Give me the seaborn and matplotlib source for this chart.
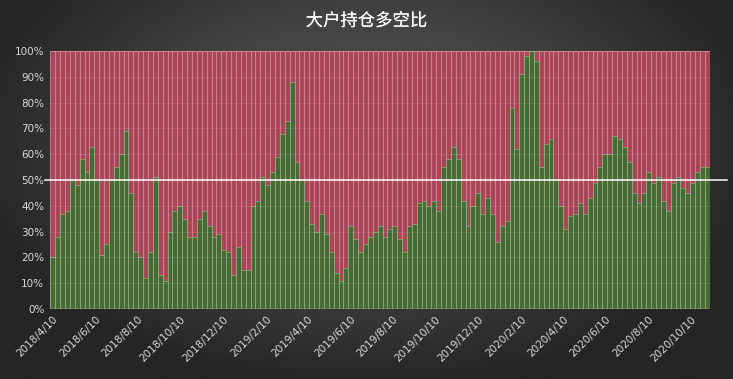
import numpy as np
import pandas as pd
import matplotlib
matplotlib.use('Agg')
import matplotlib.pyplot as plt
import matplotlib.patheffects as pe
import seaborn as sns

# weekly long share (%)
start_date = '2018-04-10'
long_pct = [20, 28, 37, 38, 50, 48, 58, 53, 63, 50,
            21, 25, 50, 55, 60, 69, 45, 22, 20, 12,
            22, 51, 13, 11, 30, 38, 40, 35, 28, 28,
            35, 38, 32, 28, 29, 23, 22, 13, 24, 15,
            15, 40, 42, 51, 48, 53, 59, 68, 73, 88,
            57, 50, 42, 33, 30, 37, 29, 22, 14, 11,
            16, 32, 27, 22, 25, 28, 30, 32, 28, 31,
            32, 27, 22, 32, 33, 41, 42, 40, 42, 38,
            55, 58, 63, 58, 42, 32, 40, 45, 37, 43,
            37, 26, 32, 34, 78, 62, 91, 98, 100, 96,
            55, 64, 66, 50, 40, 31, 36, 37, 41, 37,
            43, 49, 55, 60, 60, 67, 66, 63, 57, 45,
            41, 45, 53, 49, 51, 42, 38, 49, 51, 47,
            45, 49, 53, 55, 55]
tick_dates = ['2018/4/10', '2018/6/10', '2018/8/10', '2018/10/10', '2018/12/10',
              '2019/2/10', '2019/4/10', '2019/6/10', '2019/8/10', '2019/10/10',
              '2019/12/10', '2020/2/10', '2020/4/10', '2020/6/10', '2020/8/10',
              '2020/10/10']
y_ticks = [0, 10, 20, 30, 40, 50, 60, 70, 80, 90, 100]

dates = pd.date_range(start_date, periods=len(long_pct), freq='7D')
df = pd.DataFrame({'date': dates.strftime('%Y-%m-%d'),
                   'long': long_pct,
                   'total': 100})

fig = plt.figure(figsize=(7.33, 3.79), dpi=100)

# dark radial background
bg = fig.add_axes([0, 0, 1, 1], zorder=-10)
yy, xx = np.mgrid[-1:1:200j, -1:1:400j]
r = np.sqrt((xx / 1.1) ** 2 + ((yy + 0.25) / 1.3) ** 2)
bg.imshow(np.clip(r, 0, 1), cmap=matplotlib.colors.LinearSegmentedColormap.from_list(
    'bg', ['#555555', '#434343', '#252525']), aspect='auto', extent=[0, 1, 0, 1])
bg.axis('off')

ax = fig.add_axes([0.068, 0.185, 0.901, 0.68])
ax.set_facecolor('none')
sns.barplot(data=df, x='date', y='total', color='#a8465a', width=1.0, saturation=1,
            edgecolor=(0.86, 0.55, 0.58, 0.75), linewidth=0.7, errorbar=None, ax=ax)
sns.barplot(data=df, x='date', y='long', color='#486a36', width=1.0, saturation=1,
            edgecolor=(0.58, 0.72, 0.5, 0.7), linewidth=0.7, errorbar=None, ax=ax)

for v in y_ticks[1:]:
    ax.axhline(v, color='white', alpha=0.12, linewidth=0.6, zorder=3)
ax.axhline(50, xmin=-0.008, xmax=1.025, color='white', linewidth=1.1, clip_on=False, zorder=5)
ax.axhline(0, color='#d9d9d9', linewidth=1.0, zorder=5)

ax.set_ylim(0, 100)
ax.set_xlim(-0.6, len(long_pct) - 0.4)
ax.set_yticks(y_ticks)
ax.set_yticklabels([f'{v}%' for v in y_ticks], color='#d9d9d9', fontsize=7.5)

t0 = pd.Timestamp(start_date)
tick_pos = [(pd.to_datetime(d, format='%Y/%m/%d') - t0).days / 7 for d in tick_dates]
ax.set_xticks(tick_pos)
ax.set_xticklabels(tick_dates, rotation=45, ha='right', rotation_mode='anchor',
                   color='#d9d9d9', fontsize=7.5)
ax.tick_params(length=0, pad=4)
ax.set_xlabel('')
ax.set_ylabel('')
for s in ax.spines.values():
    s.set_visible(False)

fig.text(0.5, 0.945, '大户持仓多空比', ha='center', va='center', color='white',
         fontsize=12.5, family=['Noto Sans CJK SC', 'DejaVu Sans'],
         path_effects=[pe.withSimplePatchShadow(offset=(1, -1), alpha=0.6), pe.Normal()])

fig.savefig('out.png', dpi=100)
